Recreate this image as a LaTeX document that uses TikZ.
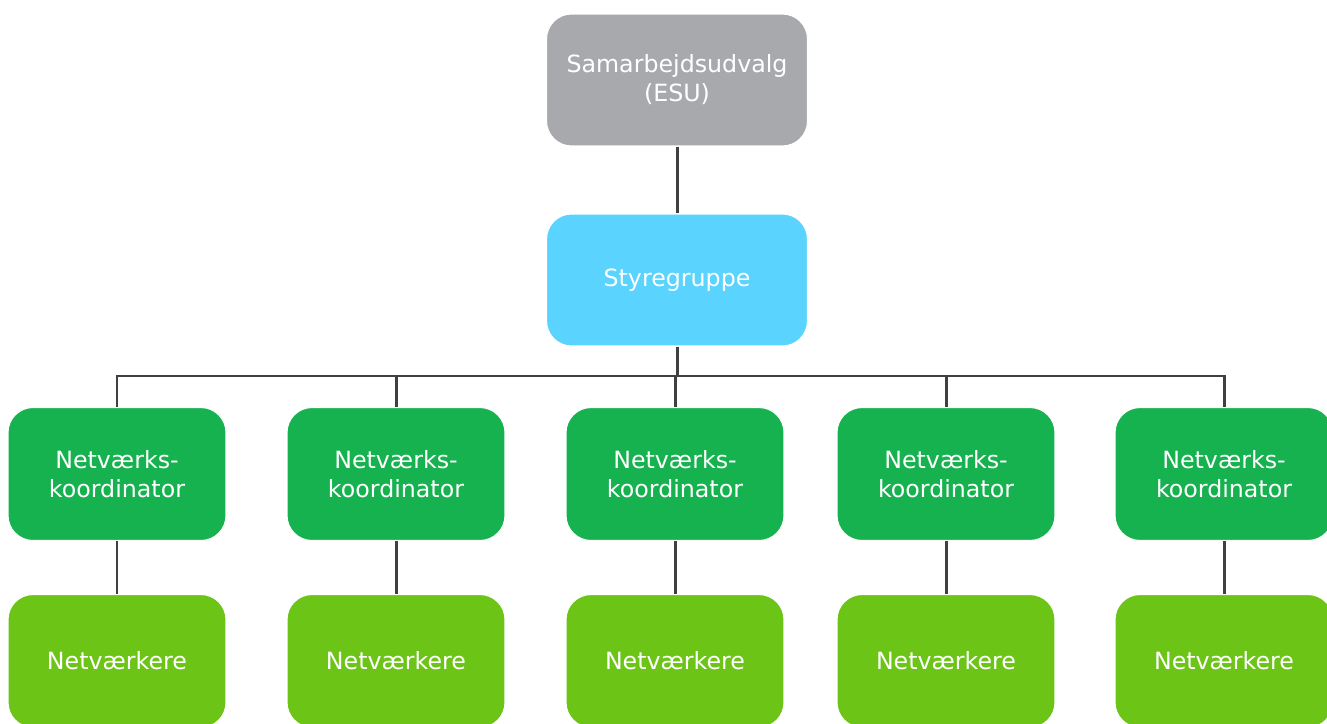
\documentclass[tikz,border=0pt]{standalone}
\usepackage{fontspec}
\setmainfont{DejaVu Sans}
\usepackage{tikz}
\usetikzlibrary{positioning}

\definecolor{esugray}{HTML}{A7A9AC}
\definecolor{styrblue}{HTML}{5AD3FE}
\definecolor{koordgreen}{HTML}{16B24F}
\definecolor{netgreen}{HTML}{6CC417}
\definecolor{linegray}{HTML}{404040}

\tikzset{
    orgbox/.style={rounded corners=0.5cm, draw=white, line width=0.6pt, text=white,
        align=center, font=\fontsize{13.5}{16.5}\selectfont, inner sep=0pt},
    koordbox/.style={orgbox, fill=koordgreen, minimum width=4.36cm, minimum height=2.66cm},
    netbox/.style={orgbox, fill=netgreen, minimum width=4.36cm, minimum height=2.66cm},
    orgline/.style={linegray, line width=1.7pt}
}

\begin{document}
\begin{tikzpicture}[x=0.02cm, y=-0.02cm]
    \useasboundingbox (0,0) rectangle (1327,723);

    \node[orgbox, fill=esugray, minimum width=5.22cm, minimum height=2.64cm]
        (esu) at (677,80) {Samarbejdsudvalg\\(ESU)};
    \node[orgbox, fill=styrblue, minimum width=5.22cm, minimum height=2.64cm]
        (styr) at (677,280) {Styregruppe};

    \coordinate (bus) at (677,376);

    \draw[orgline] (esu) -- (styr);
    \draw[orgline] (styr) -- (bus);

    \foreach \i/\x in {1/117, 2/396, 3/675, 4/946, 5/1224} {
        \node[koordbox] (koord\i) at (\x,474) {Netværks-\\koordinator};
        \node[netbox] (net\i) at (\x,661) {Netværkere};
        \draw[orgline] (koord\i.north) |- (bus);
        \draw[orgline] (koord\i) -- (net\i);
    }
\end{tikzpicture}
\end{document}
